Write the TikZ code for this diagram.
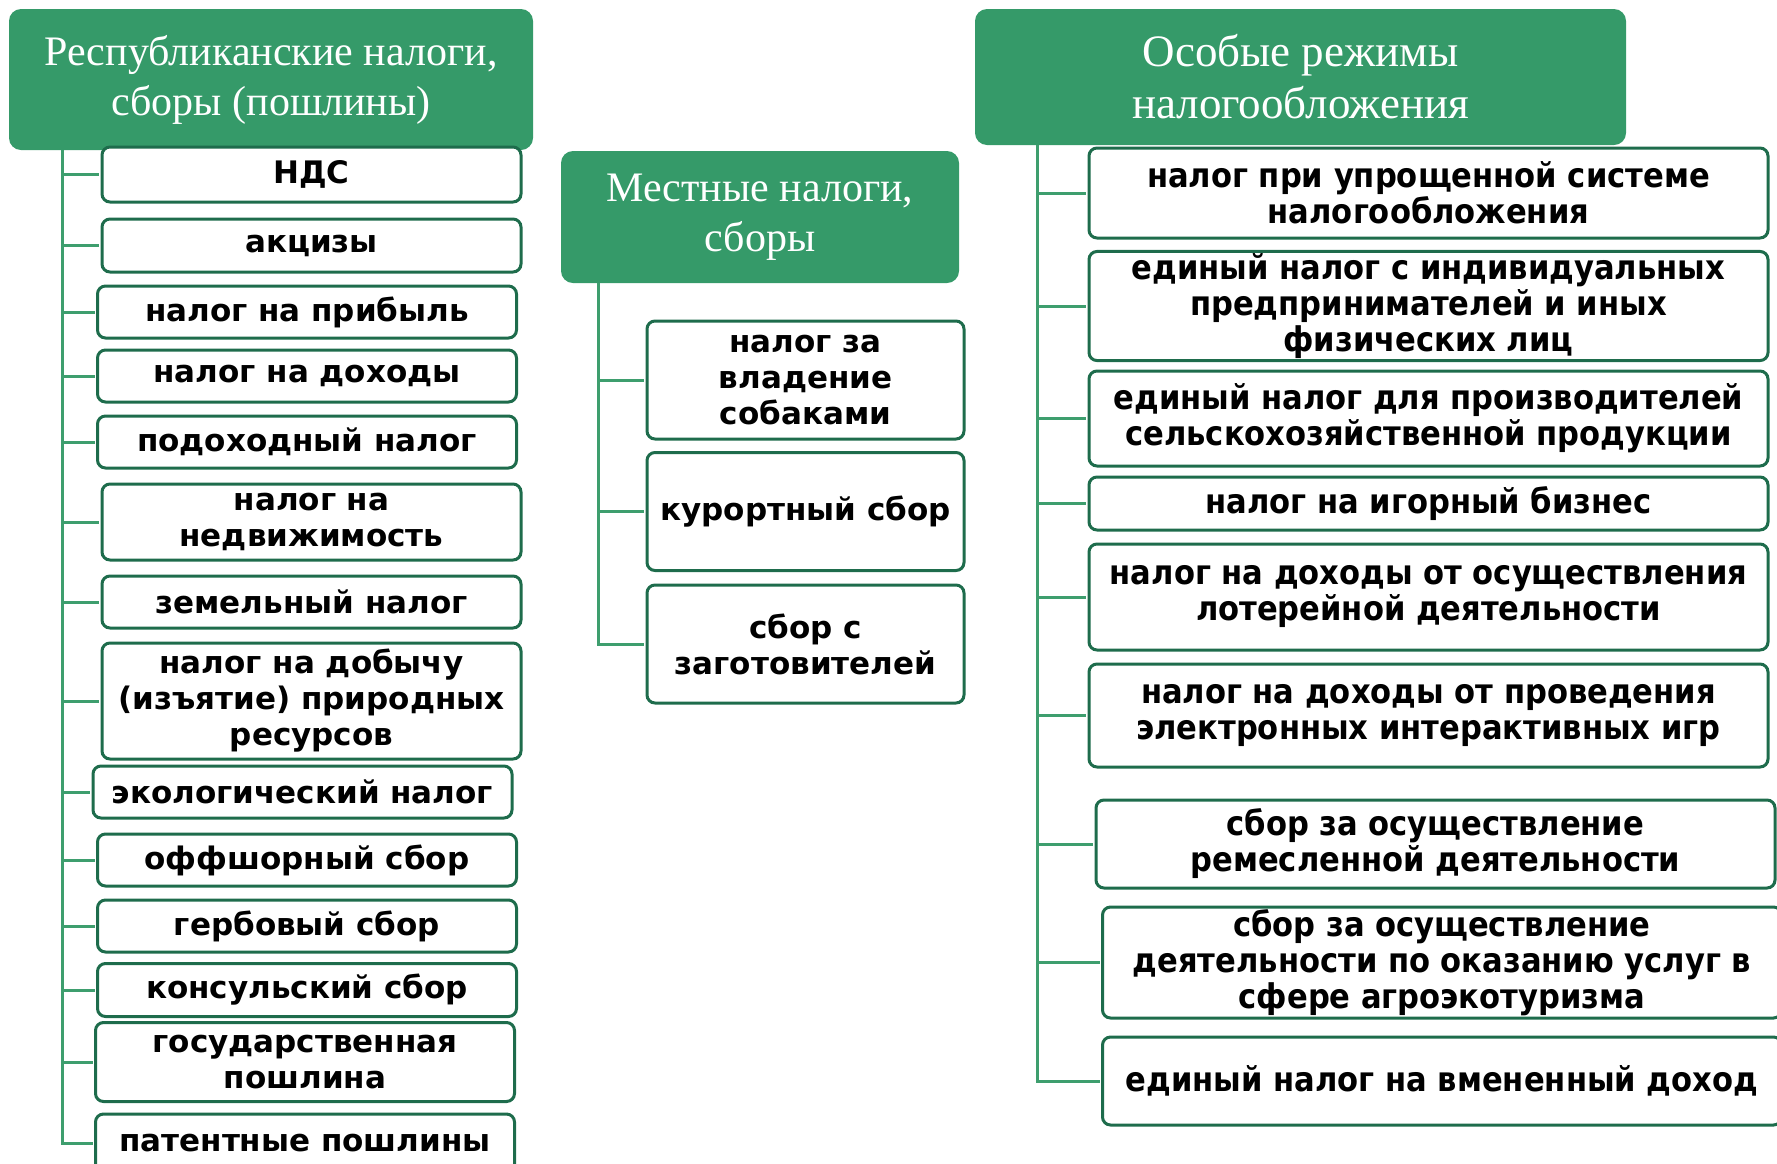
\documentclass[tikz,border=0pt]{standalone}
\usepackage{fontspec}
\setmainfont{Liberation Serif}
\newfontfamily\boxfont{DejaVu Sans}
\newfontfamily\narrowfont{DejaVu Sans Condensed}
\usetikzlibrary{calc}
\definecolor{hdgreen}{RGB}{53,154,105}
\definecolor{lngreen}{RGB}{62,158,110}
\definecolor{bxgreen}{RGB}{30,108,76}

\begin{document}
\begin{tikzpicture}[x=1pt, y=-1pt]%{{{
        \useasboundingbox (0, 0) rectangle (1777, 1163);

        \tikzstyle{hd} = [fill=hdgreen, rounded corners=12pt, text=white, align=center, font=\fontsize{42}{50}\selectfont];
        \tikzstyle{bx} = [draw=bxgreen, line width=3pt, fill=white, rounded corners=8pt, align=center, inner sep=2pt, font=\boxfont\bfseries\fontsize{31}{36}\selectfont];
        \tikzstyle{bxr} = [bx, font=\narrowfont\bfseries\fontsize{34}{36}\selectfont];
        \tikzstyle{ln} = [draw=lngreen, line width=3pt, shorten >=1.5pt];

        \node [hd, minimum width=524, minimum height=141] (LH) at (271, 79.5) {Республиканские налоги,\\сборы (пошлины)};
        \node [hd, minimum width=398, minimum height=132] (MH) at (760, 217) {Местные налоги,\\сборы};
        \node [hd, minimum width=651, minimum height=136, font=\fontsize{45}{52}\selectfont] (RH) at (1300.5, 77) {Особые режимы\\налогообложения};

        \coordinate (L) at (62, 150);
        \coordinate (M) at (598, 283);
        \coordinate (R) at (1037, 145);

        \tikzstyle{lw} = [minimum width=419];
        \node [bx, lw, minimum height=55] (L1) at (311.5, 174.5) {НДС};
        \node [bx, lw, minimum height=53] (L2) at (311.5, 245.5) {акцизы};
        \node [bx, lw, minimum height=52] (L3) at (307, 312) {налог на прибыль};
        \node [bx, lw, minimum height=52] (L4) at (307, 376) {налог на доходы};
        \node [bx, lw, minimum height=52] (L5) at (307, 442) {подоходный налог};
        \node [bx, lw, minimum height=76] (L6) at (311.5, 522) {налог на\\недвижимость};
        \node [bx, lw, minimum height=52] (L7) at (311.5, 602) {земельный налог};
        \node [bx, lw, minimum height=116] (L8) at (311.5, 701) {налог на добычу\\(изъятие) природных\\ресурсов};
        \node [bx, lw, minimum height=52] (L9) at (302.5, 792) {экологический налог};
        \node [bx, lw, minimum height=52] (L10) at (307, 860) {оффшорный сбор};
        \node [bx, lw, minimum height=52] (L11) at (307, 926) {гербовый сбор};
        \node [bx, lw, minimum height=53] (L12) at (307, 990) {консульский сбор};
        \node [bx, lw, minimum height=79] (L13) at (305, 1062) {государственная\\пошлина};
        \node [bx, lw, minimum height=58] (L14) at (305, 1143) {патентные пошлины};

        \tikzstyle{mw} = [minimum width=317, minimum height=118];
        \node [bx, mw] (M1) at (805.5, 380) {налог за\\владение\\собаками};
        \node [bx, mw] (M2) at (805.5, 511.5) {курортный сбор};
        \node [bx, mw] (M3) at (805.5, 644) {сбор с\\заготовителей};

        \tikzstyle{rw} = [minimum width=679];
        \node [bxr, rw, minimum height=90] (R1) at (1428.5, 193) {налог при упрощенной системе\\налогообложения};
        \node [bxr, rw, minimum height=108] (R2) at (1428.5, 306) {единый налог с индивидуальных\\предпринимателей и иных\\физических лиц};
        \node [bxr, rw, minimum height=95] (R3) at (1428.5, 418.5) {единый налог для производителей\\сельскохозяйственной продукции};
        \node [bxr, rw, minimum height=53] (R4) at (1428.5, 503.5) {налог на игорный бизнес};
        \node [bxr, rw, minimum height=106] (R5) at (1428.5, 597) {налог на доходы от осуществления\\лотерейной деятельности};
        \node [bxr, rw, minimum height=103] (R6) at (1428.5, 715.5) {налог на доходы от проведения\\электронных интерактивных игр};
        \node [bxr, rw, minimum height=88] (R7) at (1435.5, 844) {сбор за осуществление\\ремесленной деятельности};
        \node [bxr, rw, minimum height=111] (R8) at (1442, 962.5) {сбор за осуществление\\деятельности по оказанию услуг в\\сфере агроэкотуризма};
        \node [bxr, rw, minimum height=88] (R9) at (1442, 1081) {единый налог на вмененный доход};

        \foreach \k in {1, ..., 14}{
            \draw [ln] (L) |- (L\k.west);
        }
        \foreach \k in {1, ..., 3}{
            \draw [ln] (M) |- (M\k.west);
        }
        \foreach \k in {1, ..., 9}{
            \draw [ln] (R) |- (R\k.west);
        }
    \end{tikzpicture}
\end{document}
